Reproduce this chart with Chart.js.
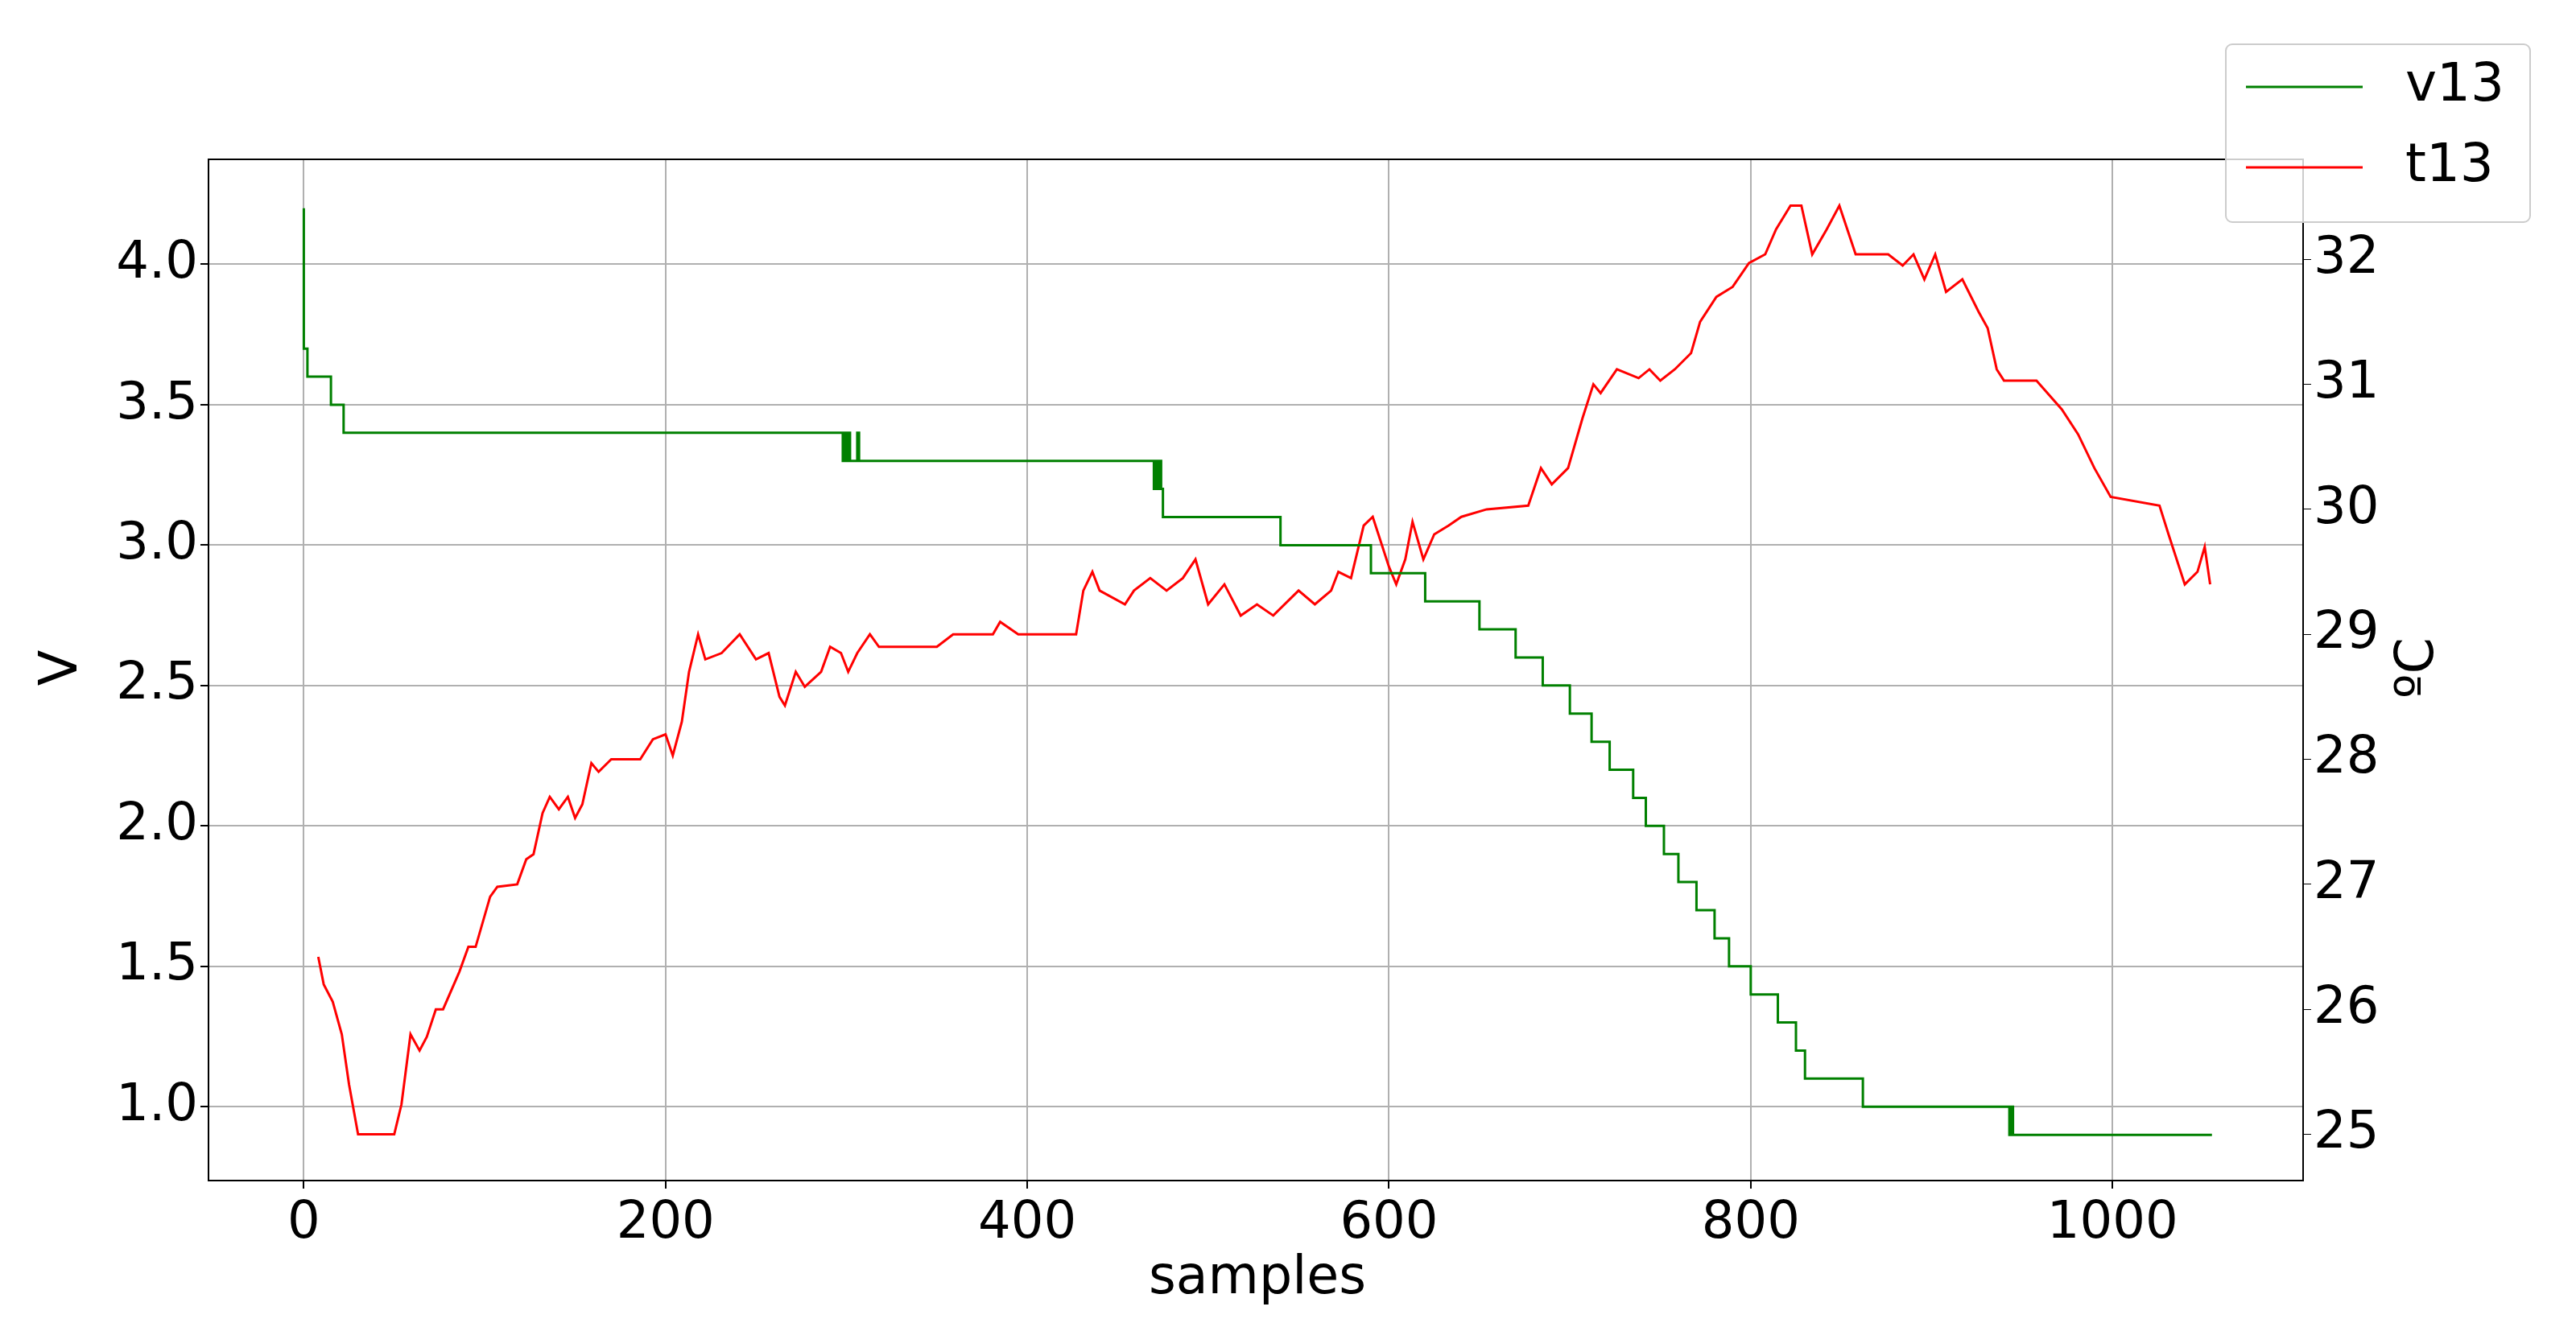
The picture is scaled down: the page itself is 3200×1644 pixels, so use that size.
<!DOCTYPE html>
<html><head><meta charset="utf-8">
<script src="https://cdn.jsdelivr.net/npm/chart.js@4"></script>
<style>html,body{margin:0;padding:0;background:#fff}#w{width:3200px;height:1644px}</style>
</head><body><div id="w"><canvas id="c"></canvas></div>
<script>
const vX=[0,2,15,22,28,298,299,300,301,302,303,304,306,307,309,310,311,470,471,472,473,474,475,540,590,620,650,670,685,700,712,722,735,742,752,760,770,780,788,800,815,825,830,862,897,943,944,945,946,1055];
const vY=[4.2,3.7,3.6,3.5,3.4,3.4,3.3,3.4,3.3,3.4,3.3,3.3,3.3,3.4,3.3,3.3,3.3,3.3,3.2,3.3,3.2,3.3,3.2,3.1,3.0,2.9,2.8,2.7,2.6,2.5,2.4,2.3,2.2,2.1,2.0,1.9,1.8,1.7,1.6,1.5,1.4,1.3,1.2,1.1,1.0,1.0,0.9,1.0,0.9,0.9];
const tX=[8,11,16,21,25,30,50,54,59,64,68,73,77,86,91,95,103,107,118,123,127,132,136,141,146,150,154,159,163,170,186,193,200,204,209,213,218,222,231,241,250,257,263,266,272,277,286,291,297,301,306,313,318,350,359,381,385,395,427,431,436,440,454,459,468,477,486,493,500,509,518,527,536,550,559,568,572,579,586,591,600,604,609,613,619,625,633,640,654,677,684,690,699,707,713,717,726,738,744,750,758,767,772,781,790,799,808,814,822,828,834,842,849,858,876,884,890,896,902,908,917,926,931,936,940,958,972,981,990,999,1026,1031,1040,1047,1051,1054];
const tY=[26.42,26.2,26.06,25.8,25.4,25.0,25.0,25.24,25.8,25.67,25.78,26.0,26.0,26.3,26.5,26.5,26.9,26.98,27.0,27.2,27.24,27.57,27.7,27.6,27.7,27.53,27.64,27.97,27.9,28.0,28.0,28.16,28.2,28.03,28.3,28.7,29.0,28.8,28.85,29.0,28.8,28.85,28.5,28.43,28.7,28.58,28.7,28.9,28.85,28.7,28.85,29.0,28.9,28.9,29.0,29.0,29.1,29.0,29.0,29.35,29.5,29.35,29.24,29.35,29.45,29.35,29.45,29.6,29.24,29.4,29.15,29.24,29.15,29.35,29.24,29.35,29.5,29.45,29.87,29.94,29.54,29.4,29.6,29.9,29.6,29.8,29.87,29.94,30.0,30.03,30.33,30.2,30.33,30.73,31.0,30.93,31.12,31.05,31.12,31.03,31.12,31.25,31.5,31.7,31.78,31.97,32.04,32.24,32.43,32.43,32.04,32.24,32.43,32.04,32.04,31.95,32.04,31.84,32.04,31.74,31.84,31.58,31.45,31.12,31.03,31.03,30.8,30.6,30.33,30.1,30.03,29.8,29.4,29.5,29.7,29.4];
const F='"DejaVu Sans"';
const pts=(xs,ys)=>xs.map((x,i)=>({x,y:ys[i]}));
const extra={id:'extra',afterDraw(ch){const c=ch.ctx,a=ch.chartArea;
 c.save();c.strokeStyle='#000';c.lineWidth=2;c.strokeRect(a.left,a.top,a.right-a.left,a.bottom-a.top);
 c.font='65px '+F;c.fillStyle='#000';c.textAlign='center';c.textBaseline='middle';
 c.fillText('samples',1562,1590);
 c.save();c.translate(78,830);c.rotate(-Math.PI/2);c.fillText('V',0,0);c.restore();
 c.translate(3005,830);c.rotate(-Math.PI/2);c.fillText('ºC',0,0);c.restore();
 c.save();const x0=2765,y0=55,w=378,h=221;c.fillStyle='rgba(255,255,255,0.8)';c.strokeStyle='#ccc';c.lineWidth=2;
 c.beginPath();c.roundRect(x0,y0,w,h,8);c.fill();c.stroke();
 c.font='66px '+F;c.textBaseline='middle';c.fillStyle='#000';
 [['v13','green',108],['t13','red',208]].forEach(([t,col,y])=>{c.strokeStyle=col;c.lineWidth=3;c.beginPath();c.moveTo(2790,y);c.lineTo(2935,y);c.stroke();c.fillText(t,2988,y);});
 c.restore();}};
new Chart(document.getElementById('c'),{type:'line',
 data:{datasets:[
  {label:'v13',data:pts(vX,vY),borderColor:'green',borderWidth:3,pointRadius:0,stepped:'after',yAxisID:'y'},
  {label:'t13',data:pts(tX,tY),borderColor:'red',borderWidth:3,pointRadius:0,yAxisID:'y1'}]},
 options:{responsive:true,maintainAspectRatio:false,animation:false,devicePixelRatio:1,
  layout:{padding:{top:198,left:0,right:0,bottom:0}},
  plugins:{legend:{display:false},tooltip:{enabled:false}},
  scales:{
   x:{type:'linear',min:-52.7,max:1105.4,afterFit:s=>{s.height=177},
    afterBuildTicks:s=>{s.ticks=[0,200,400,600,800,1000].map(v=>({value:v}))},
    ticks:{font:{family:F,size:64},color:'#000',padding:6,callback:v=>String(v)},
    grid:{color:'#b0b0b0',lineWidth:2,tickLength:10,tickColor:'#000'},border:{color:'#000',width:2}},
   y:{position:'left',min:0.737,max:4.374,afterFit:s=>{s.width=259},
    afterBuildTicks:s=>{s.ticks=[1,1.5,2,2.5,3,3.5,4].map(v=>({value:v}))},
    ticks:{font:{family:F,size:64},color:'#000',callback:v=>v.toFixed(1)},
    grid:{color:'#b0b0b0',lineWidth:2,tickLength:10,tickColor:'#000'},border:{color:'#000',width:2}},
   y1:{position:'right',min:24.63,max:32.80,afterFit:s=>{s.width=339},
    afterBuildTicks:s=>{s.ticks=[25,26,27,28,29,30,31,32].map(v=>({value:v}))},
    ticks:{font:{family:F,size:64},color:'#000',callback:v=>String(v)},
    grid:{drawOnChartArea:false,tickLength:10,tickColor:'#000'},border:{color:'#000',width:2}}
  }}, plugins:[extra]});
</script></body></html>
